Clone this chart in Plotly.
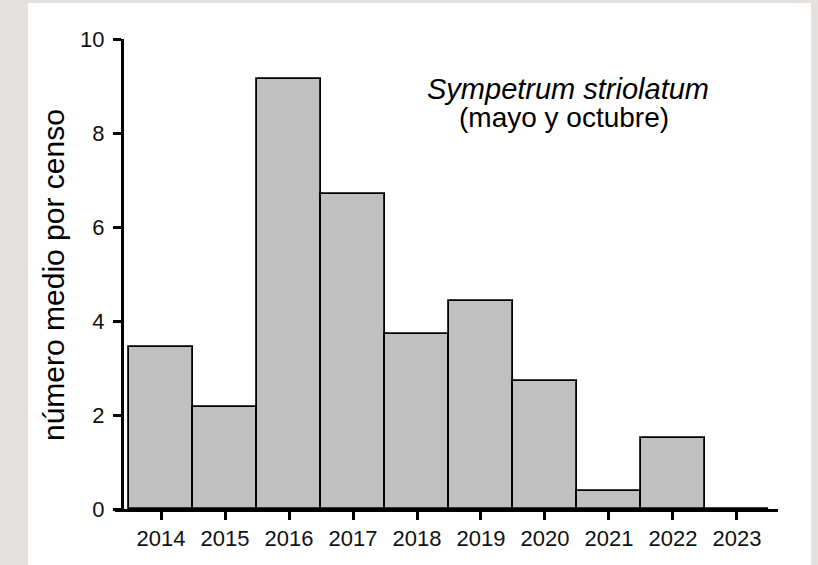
import plotly.graph_objects as go

years = ["2014", "2015", "2016", "2017", "2018", "2019", "2020", "2021", "2022", "2023"]
values = [3.44, 2.16, 9.15, 6.70, 3.72, 4.43, 2.72, 0.38, 1.51, 0.0]
y_ticks = [0, 2, 4, 6, 8, 10]

FONT = "Arial, Liberation Sans, sans-serif"
BG = "#e3e0dd"

fig = go.Figure()
fig.add_trace(go.Bar(
    x=years, y=values, width=1.0,
    marker=dict(color="#c0c0c0", line=dict(color="black", width=1.8)),
))

W, H = 818, 565
L, R, T, B = 115, 40, 39, 56
pw, ph = W - L - R, H - T - B

def px_to_paper_x(px):
    return (px - L) / pw

def px_to_paper_y(py):
    return (H - B - py) / ph

fig.update_layout(
    width=W, height=H,
    margin=dict(l=L, r=R, t=T, b=B, pad=0),
    paper_bgcolor=BG,
    plot_bgcolor="rgba(0,0,0,0)",
    showlegend=False,
    bargap=0,
    font=dict(family=FONT, color="black"),
    xaxis=dict(
        type="category",
        range=[-0.719, 9.641],
        showgrid=False, zeroline=False,
        showline=True, linecolor="black", linewidth=3,
        ticks="outside", ticklen=8, tickwidth=3, tickcolor="black",
        tickfont=dict(size=22, family=FONT, color="#111"),
        ticklabelstandoff=0,
        fixedrange=True,
    ),
    yaxis=dict(
        range=[0, 10],
        tickvals=y_ticks,
        anchor="free", position=px_to_paper_x(122),
        showgrid=False, zeroline=False,
        showline=True, linecolor="black", linewidth=3,
        ticks="outside", ticklen=8, tickwidth=3, tickcolor="black",
        tickfont=dict(size=22, family=FONT, color="#111"),
        ticklabelstandoff=4,
        fixedrange=True,
    ),
    shapes=[dict(
        type="rect", xref="paper", yref="paper", layer="below",
        x0=px_to_paper_x(28), x1=px_to_paper_x(811),
        y0=px_to_paper_y(566), y1=px_to_paper_y(3),
        fillcolor="white", line=dict(width=0),
    )],
    annotations=[
        dict(text="número medio por censo", textangle=-90,
             xref="paper", yref="paper",
             x=px_to_paper_x(53), y=px_to_paper_y(275),
             xanchor="center", yanchor="middle", showarrow=False,
             font=dict(size=30, family=FONT, color="black")),
        dict(text="<i>Sympetrum striolatum</i>",
             xref="paper", yref="paper",
             x=px_to_paper_x(568), y=px_to_paper_y(89),
             xanchor="center", yanchor="middle", showarrow=False,
             font=dict(size=29, family=FONT, color="black")),
        dict(text="(mayo y octubre)",
             xref="paper", yref="paper",
             x=px_to_paper_x(564), y=px_to_paper_y(118),
             xanchor="center", yanchor="middle", showarrow=False,
             font=dict(size=28, family=FONT, color="black")),
    ],
)

fig.write_html(
    "out.html",
    config={"displayModeBar": False},
    post_script="document.body.style.margin='0';document.body.style.background='" + BG + "';",
)
